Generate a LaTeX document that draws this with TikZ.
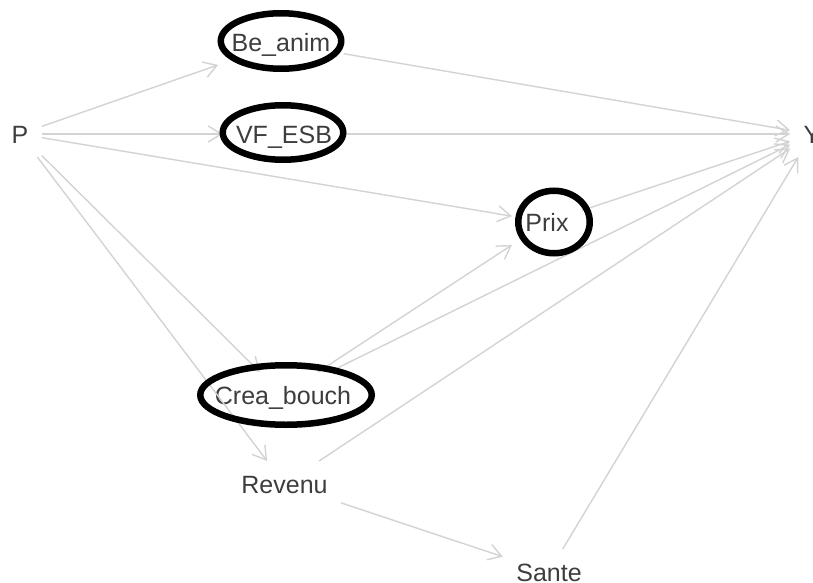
\documentclass[tikz,border=0pt]{standalone}
\usepackage{fontspec}
\setmainfont{Liberation Sans}
\usetikzlibrary{arrows.meta,shapes.geometric}
\definecolor{edgegray}{HTML}{D3D3D3}
\definecolor{labelgray}{HTML}{3D3D3D}
\begin{document}
\begin{tikzpicture}[x=1pt,y=-1pt,
  lbl/.style={font=\fontsize{25}{30}\selectfont, text=labelgray, inner xsep=13.5pt, inner ysep=14pt, text height=18pt, text depth=0pt, outer sep=0pt},
  edge/.style={draw=edgegray, line width=1.4pt, -{Straight Barb[length=13pt,width=16pt]}},
  ring/.style={draw=black, line width=6.5pt, ellipse, inner sep=0pt}]
\useasboundingbox (0,0) rectangle (813,583);
% labels
\node[lbl] (P) at (20,134) {P};
\node[lbl] (Be) at (281,43) {Be\_anim};
\node[lbl] (VF) at (284,134) {VF\_ESB};
\node[lbl] (Y) at (812,134) {Y};
\node[lbl] (Prix) at (547,222) {Prix};
\node[lbl] (Crea) at (283,395) {Crea\_bouch};
\node[lbl] (Rev) at (284.5,484) {Revenu};
\node[lbl] (Sante) at (549,572) {Sante};
% edges
\draw[edge] (P) -- (Be);
\draw[edge] (P) -- (VF);
\draw[edge] (P) -- (Prix);
\draw[edge] (P) -- (Crea);
\draw[edge] (P) -- (Rev);
\draw[edge] (Be) -- (Y);
\draw[edge] (VF) -- (Y);
\draw[edge] (Prix) -- (Y);
\draw[edge] (Crea) -- (Prix);
\draw[edge] (Crea) -- (Y);
\draw[edge] (Rev) -- (Y);
\draw[edge] (Rev) -- (Sante);
\draw[edge] (Sante) -- (Y);
% highlight rings
\node[ring, minimum width=120.5pt, minimum height=55.5pt] (BeR) at (281,41) {};
\node[ring, minimum width=120.5pt, minimum height=54.5pt] (VFR) at (283,132.5) {};
\node[ring, minimum width=71.5pt, minimum height=62.5pt] (PrixR) at (554,222) {};
\node[ring, minimum width=171.5pt, minimum height=59.5pt] (CreaR) at (286,395) {};
\end{tikzpicture}
\end{document}
